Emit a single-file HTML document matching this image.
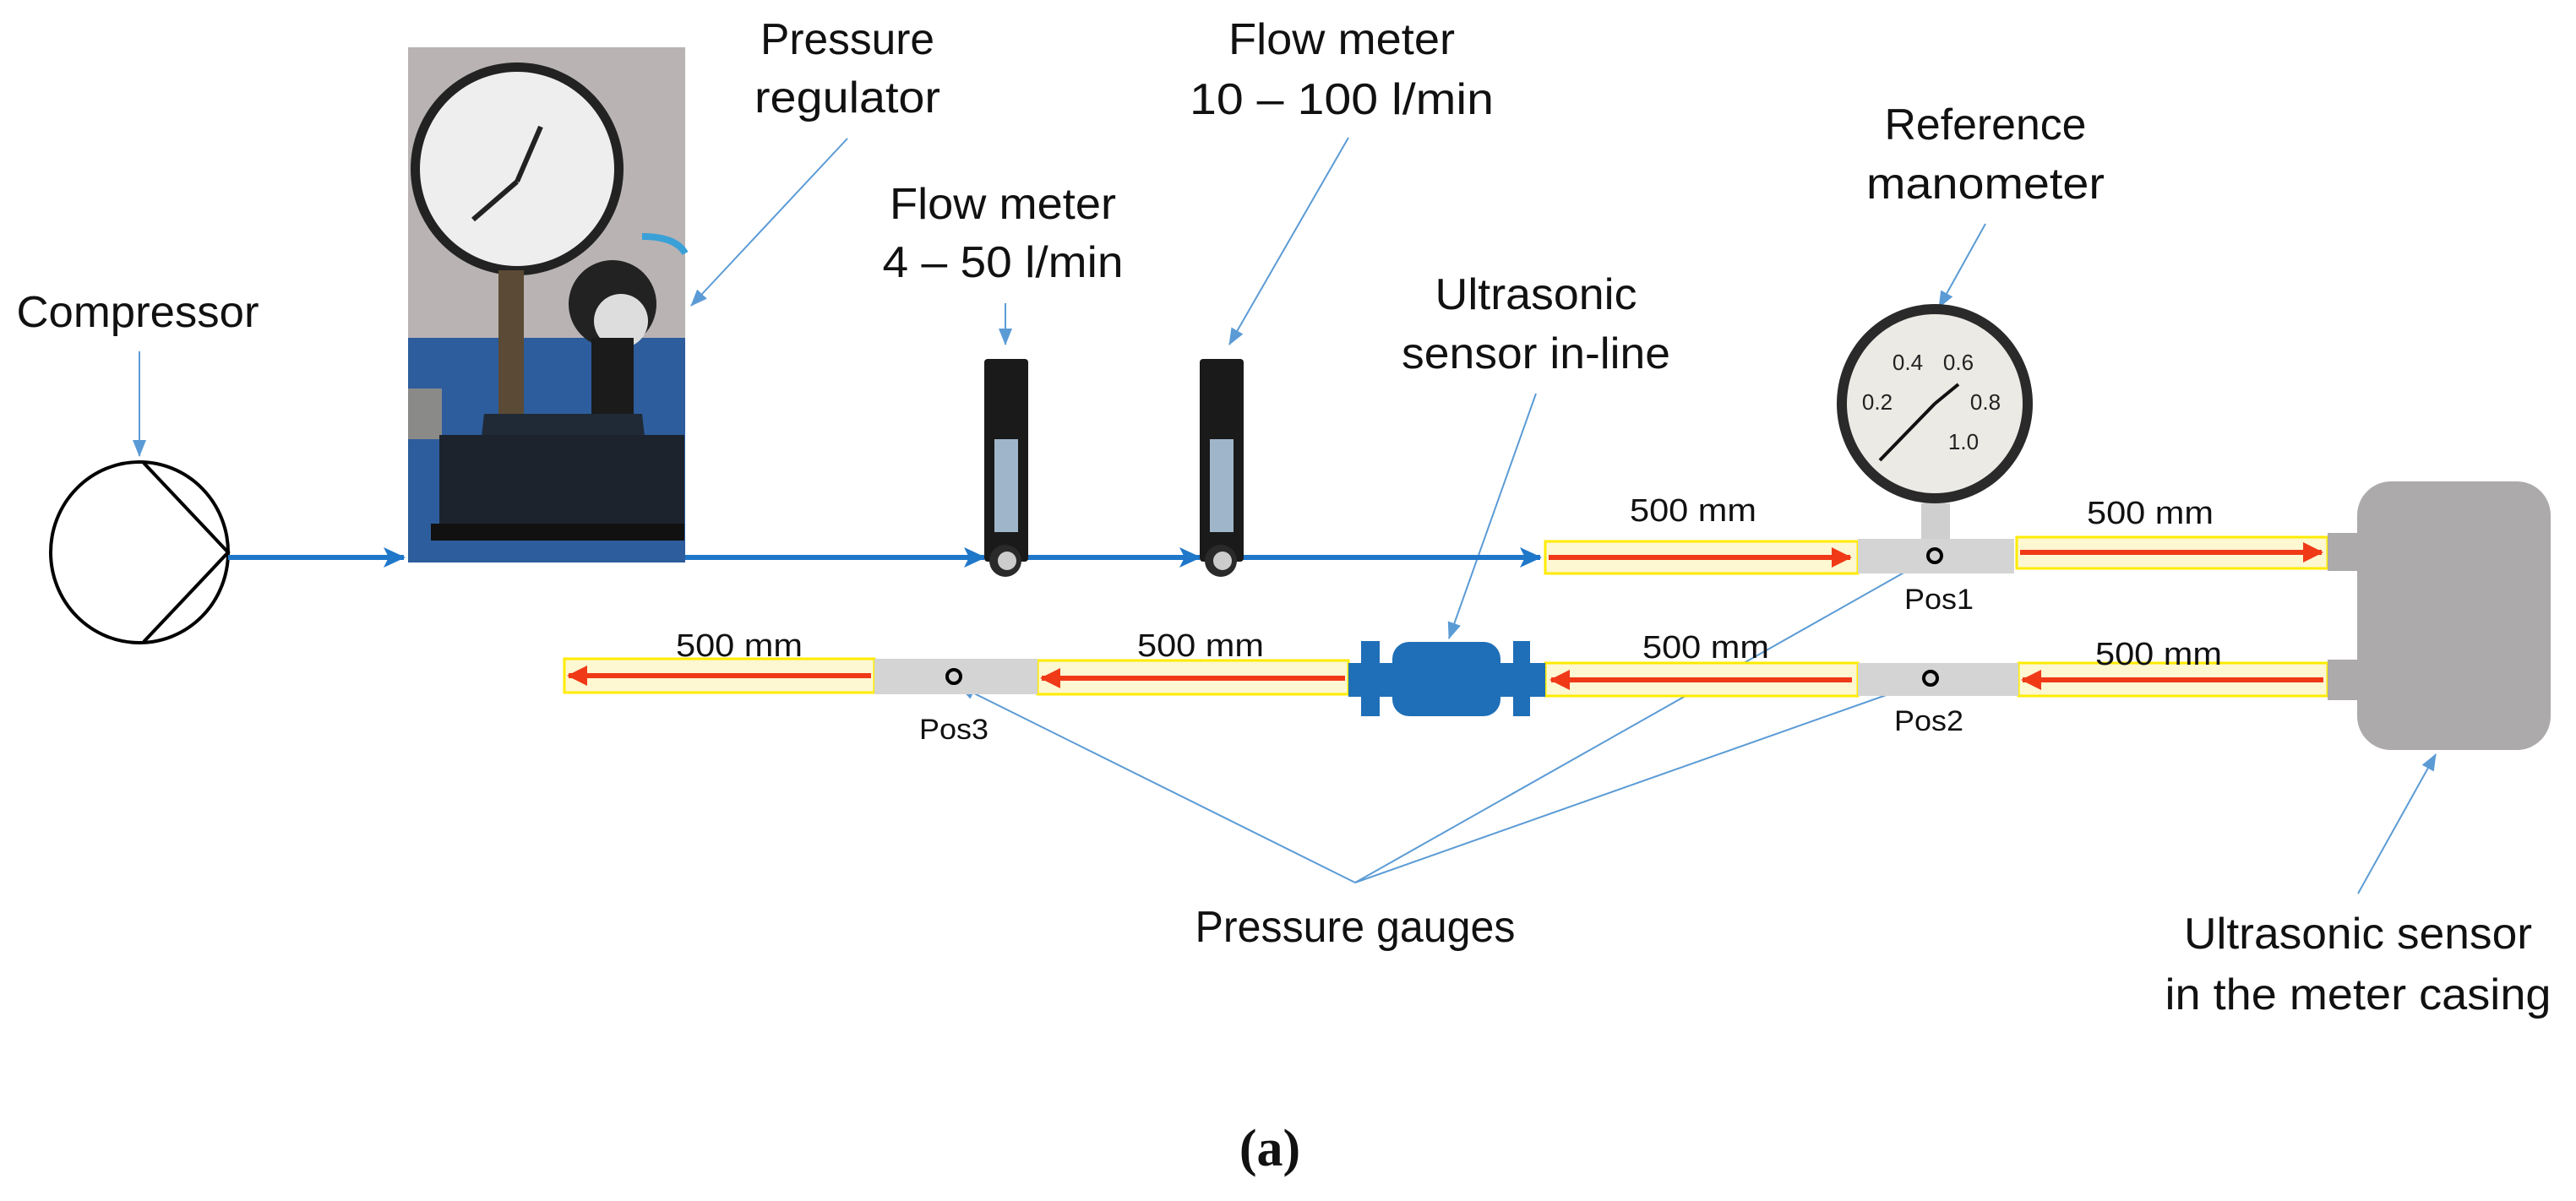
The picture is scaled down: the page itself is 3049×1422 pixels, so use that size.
<!DOCTYPE html>
<html><head><meta charset="utf-8"><style>html,body{margin:0;padding:0;background:#fff}svg{display:block}</style></head>
<body>
<svg width="3049" height="1422" viewBox="0 0 3049 1422" xmlns="http://www.w3.org/2000/svg" font-family="Liberation Sans, sans-serif">
<defs>
<marker id="al" markerWidth="20" markerHeight="16" refX="19" refY="8" orient="auto" markerUnits="userSpaceOnUse"><path d="M0,0 L20,8 L0,16 z" fill="#5b9bd5"/></marker>
<marker id="am" markerWidth="26" markerHeight="24" refX="24" refY="12" orient="auto" markerUnits="userSpaceOnUse"><path d="M0,0 L26,12 L0,24 L6,12 z" fill="#1f77c9"/></marker>
<marker id="ar" markerWidth="24" markerHeight="24" refX="22" refY="12" orient="auto" markerUnits="userSpaceOnUse"><path d="M0,0 L24,12 L0,24 z" fill="#f03a17"/></marker>
</defs>
<g fill="#111" font-size="52" text-anchor="middle">
<text x="163" y="387" textLength="287" lengthAdjust="spacingAndGlyphs">Compressor</text>
<text x="1003" y="64" textLength="206" lengthAdjust="spacingAndGlyphs">Pressure</text>
<text x="1003" y="133" textLength="220" lengthAdjust="spacingAndGlyphs">regulator</text>
<text x="1187" y="259" textLength="268" lengthAdjust="spacingAndGlyphs">Flow meter</text>
<text x="1187" y="328" textLength="285" lengthAdjust="spacingAndGlyphs">4 – 50 l/min</text>
<text x="1588" y="64" textLength="268" lengthAdjust="spacingAndGlyphs">Flow meter</text>
<text x="1588" y="135" textLength="360" lengthAdjust="spacingAndGlyphs">10 – 100 l/min</text>
<text x="2350" y="165" textLength="239" lengthAdjust="spacingAndGlyphs">Reference</text>
<text x="2350" y="235" textLength="282" lengthAdjust="spacingAndGlyphs">manometer</text>
<text x="1818" y="366" textLength="239" lengthAdjust="spacingAndGlyphs">Ultrasonic</text>
<text x="1818" y="436" textLength="318" lengthAdjust="spacingAndGlyphs">sensor in-line</text>
<text x="1604" y="1115" textLength="379" lengthAdjust="spacingAndGlyphs">Pressure gauges</text>
<text x="2791" y="1123" textLength="412" lengthAdjust="spacingAndGlyphs">Ultrasonic sensor</text>
<text x="2791" y="1195" textLength="457" lengthAdjust="spacingAndGlyphs">in the meter casing</text>
</g>
<text x="1503" y="1380" font-family="Liberation Serif, serif" font-weight="bold" font-size="62" text-anchor="middle" fill="#111">(a)</text>
<g stroke="#5b9bd5" stroke-width="2" fill="none" marker-end="url(#al)">
<line x1="165" y1="416" x2="165" y2="540"/>
<line x1="1003" y1="164" x2="818" y2="362"/>
<line x1="1190" y1="359" x2="1190" y2="408"/>
<line x1="1596" y1="163" x2="1455" y2="408"/>
<line x1="2350" y1="265" x2="2295" y2="364"/>
<line x1="1818" y1="466" x2="1715" y2="756"/>
<line x1="1604" y1="1045" x2="1135" y2="812"/>
<line x1="1604" y1="1045" x2="2280" y2="663"/>
<line x1="1604" y1="1045" x2="2275" y2="808"/>
<line x1="2791" y1="1058" x2="2883" y2="893"/>
</g>
<ellipse cx="165" cy="654" rx="105" ry="107" fill="none" stroke="#000" stroke-width="4"/>
<polyline points="170,548 270,654 170,760" fill="none" stroke="#000" stroke-width="4"/>
<g stroke="#1f77c9" stroke-width="6" fill="none">
<line x1="270" y1="660" x2="478" y2="660" marker-end="url(#am)"/>
<line x1="811" y1="660" x2="1165" y2="660" marker-end="url(#am)"/>
<line x1="1210" y1="660" x2="1420" y2="660" marker-end="url(#am)"/>
<line x1="1460" y1="660" x2="1823" y2="660" marker-end="url(#am)"/>
</g>
<g>
<rect x="483" y="56" width="328" height="610" fill="#b9b3b3"/>
<rect x="483" y="400" width="328" height="266" fill="#2d5d9c"/>
<rect x="483" y="460" width="40" height="60" fill="#8a8a88"/>
<circle cx="612" cy="200" r="126" fill="#222"/>
<circle cx="612" cy="200" r="115" fill="#eeeeee"/>
<path d="M612,215 L560,260 M612,215 L640,150" stroke="#222" stroke-width="6"/>
<rect x="590" y="320" width="30" height="180" fill="#5b4a35"/>
<circle cx="725" cy="360" r="52" fill="#222"/>
<circle cx="735" cy="380" r="32" fill="#ddd"/>
<rect x="700" y="400" width="50" height="90" fill="#1b1b1b"/>
<path d="M573,490 L760,490 L770,580 L563,580 z" fill="#1f2a36"/>
<rect x="520" y="515" width="290" height="120" fill="#1c232d"/>
<rect x="510" y="620" width="300" height="20" fill="#111"/>
<path d="M760,280 Q800,280 811,300" stroke="#3aa0d8" stroke-width="8" fill="none"/>
</g>
<g>
<rect x="1165" y="425" width="52" height="240" rx="4" fill="#1a1a1a"/>
<rect x="1177" y="520" width="28" height="110" fill="#9fb5c9"/>
<circle cx="1190" cy="664" r="19" fill="#2a2a2a"/><circle cx="1192" cy="664" r="11" fill="#ccc"/>
<rect x="1420" y="425" width="52" height="240" rx="4" fill="#1a1a1a"/>
<rect x="1432" y="520" width="28" height="110" fill="#9fb5c9"/>
<circle cx="1445" cy="664" r="19" fill="#2a2a2a"/><circle cx="1447" cy="664" r="11" fill="#ccc"/>
</g>
<rect x="2274" y="596" width="34" height="44" fill="#cfcfcf"/>
<ellipse cx="2290" cy="478" rx="116" ry="118" fill="#2a2a2a"/>
<ellipse cx="2290" cy="478" rx="104" ry="106" fill="#eceae4"/>
<g font-size="26" fill="#222" text-anchor="middle"><text x="2258" y="438">0.4</text><text x="2318" y="438">0.6</text><text x="2222" y="485">0.2</text><text x="2350" y="485">0.8</text><text x="2324" y="532">1.0</text></g>
<path d="M2290,478 L2318,455 M2290,478 L2225,545" stroke="#111" stroke-width="4"/>
<g stroke="#ffeb00" stroke-width="3" fill="#fdf7d2">
<rect x="1829" y="641" width="370" height="38"/>
<rect x="2387" y="636" width="368" height="37"/>
<rect x="1829" y="785" width="370" height="39"/>
<rect x="2389" y="785" width="366" height="39"/>
<rect x="668" y="780" width="367" height="40"/>
<rect x="1228" y="782" width="368" height="40"/>
</g>
<g fill="#d4d4d4">
<rect x="2199" y="638" width="185" height="41"/>
<rect x="2199" y="785" width="190" height="39"/>
<rect x="1035" y="780" width="193" height="42"/>
</g>
<g fill="#acaaaa">
<rect x="2755" y="631" width="50" height="45"/>
<rect x="2755" y="781" width="50" height="48"/>
<rect x="2790" y="570" width="229" height="318" rx="40"/>
</g>
<g stroke="#f03a17" stroke-width="6">
<line x1="1833" y1="660" x2="2190" y2="660" marker-end="url(#ar)"/>
<line x1="2391" y1="654" x2="2748" y2="654" marker-end="url(#ar)"/>
<line x1="2192" y1="805" x2="1836" y2="805" marker-end="url(#ar)"/>
<line x1="2750" y1="805" x2="2394" y2="805" marker-end="url(#ar)"/>
<line x1="1592" y1="803" x2="1233" y2="803" marker-end="url(#ar)"/>
<line x1="1031" y1="800" x2="673" y2="800" marker-end="url(#ar)"/>
</g>
<g fill="none" stroke="#000" stroke-width="4">
<circle cx="2290" cy="658" r="8"/><circle cx="2285" cy="803" r="8"/><circle cx="1129" cy="801" r="8"/>
</g>
<g fill="#1f6fb8">
<rect x="1596" y="785" width="233" height="40"/>
<rect x="1611" y="759" width="22" height="89"/>
<rect x="1791" y="759" width="20" height="89"/>
<rect x="1648" y="760" width="128" height="88" rx="20"/>
</g>
<g fill="#111" font-size="38" text-anchor="middle">
<text x="2004" y="617" textLength="150" lengthAdjust="spacingAndGlyphs">500 mm</text>
<text x="2545" y="620" textLength="150" lengthAdjust="spacingAndGlyphs">500 mm</text>
<text x="2019" y="779" textLength="150" lengthAdjust="spacingAndGlyphs">500 mm</text>
<text x="2555" y="787" textLength="150" lengthAdjust="spacingAndGlyphs">500 mm</text>
<text x="875" y="777" textLength="150" lengthAdjust="spacingAndGlyphs">500 mm</text>
<text x="1421" y="777" textLength="150" lengthAdjust="spacingAndGlyphs">500 mm</text>
<text x="2295" y="721" font-size="34" textLength="82" lengthAdjust="spacingAndGlyphs">Pos1</text>
<text x="2283" y="865" font-size="34" textLength="82" lengthAdjust="spacingAndGlyphs">Pos2</text>
<text x="1129" y="875" font-size="34" textLength="82" lengthAdjust="spacingAndGlyphs">Pos3</text>
</g>
</svg>
</body></html>
